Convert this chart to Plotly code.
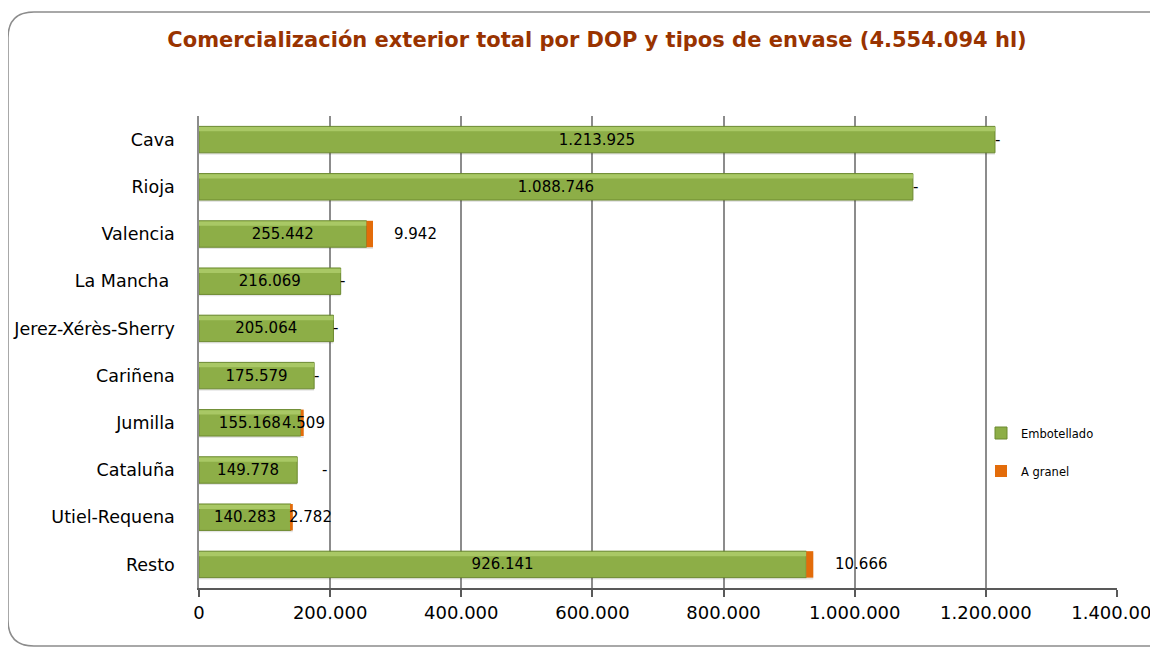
import plotly.graph_objects as go

# data
categories = ['Cava', 'Rioja', 'Valencia', 'La Mancha ', 'Jerez-Xérès-Sherry', 'Cariñena',
              'Jumilla', 'Cataluña', 'Utiel-Requena', 'Resto']
embotellado = [1213925, 1088746, 255442, 216069, 205064, 175579, 155168, 149778, 140283, 926141]
granel = [0, 0, 9942, 0, 0, 0, 4509, 0, 2782, 10666]
x_ticks = [0, 200000, 400000, 600000, 800000, 1000000, 1200000, 1400000]

# pixel shifts of the "A granel" labels, as Excel placed them
label_shift = [3, 3, 42, 2, 2, 2, 0, 27, 18, 48]

FONT = 'DejaVu Sans'
GREEN = '#8DAE47'
GREEN_EDGE = '#6C8A30'
GREEN_LIGHT = '#A9C865'
ORANGE = '#E36C0A'

# the page body adds an 8px margin, so the figure is a bit smaller than the window
W, H = 1150, 642
L, T, R, B = 191, 108, 41, 62

fig = go.Figure()

# soft shadow under the bars
fig.add_trace(go.Bar(
    y=categories, x=[e + g for e, g in zip(embotellado, granel)], orientation='h',
    width=0.56, offset=-0.24, marker=dict(color='rgba(0,0,0,0.10)', line=dict(width=0)),
    showlegend=False, hoverinfo='skip'))

# bottled wine
fig.add_trace(go.Bar(
    y=categories, x=embotellado, orientation='h', name='Embotellado',
    width=0.56, offset=-0.28,
    marker=dict(color=GREEN, line=dict(color=GREEN_EDGE, width=1)),
    text=embotellado, texttemplate='%{x:,.0f}', textposition='inside',
    insidetextanchor='middle', textfont=dict(family=FONT, size=15, color='black'),
    legend='legend'))

# light top strip (bevel look)
fig.add_trace(go.Bar(
    y=categories, x=embotellado, orientation='h',
    width=0.09, offset=-0.265,
    marker=dict(color=GREEN_LIGHT, line=dict(width=0)),
    showlegend=False, hoverinfo='skip'))

# bulk wine, stacked after the bottled bar
fig.add_trace(go.Bar(
    y=categories, x=granel, base=embotellado, orientation='h', name='A granel',
    width=0.56, offset=-0.28,
    marker=dict(color=ORANGE, line=dict(width=0)),
    legend='legend2'))

# labels for the bulk values
for cat, e, g, dx in zip(categories, embotellado, granel, label_shift):
    fig.add_annotation(
        x=e + g, y=cat, text=f'{g:,}'.replace(',', '.') if g else '-',
        showarrow=False, xanchor='center', yanchor='middle', xshift=dx,
        font=dict(family=FONT, size=15, color='black'))

# rounded frame around the chart, given in window pixels
pw, ph = W - L - R, H - T - B


def px(x, y):
    return (x - 8 - L) / pw, (H - B - (y - 8)) / ph


x0, y0 = px(8, 12)
x1, y1 = px(1200, 646)
rx, ry = 26 / pw, 26 / ph
path = (f'M {x0 + rx},{y0} L {x1 - rx},{y0} Q {x1},{y0} {x1},{y0 - ry} '
        f'L {x1},{y1 + ry} Q {x1},{y1} {x1 - rx},{y1} L {x0 + rx},{y1} '
        f'Q {x0},{y1} {x0},{y1 + ry} L {x0},{y0 - ry} Q {x0},{y0} {x0 + rx},{y0} Z')
fig.add_shape(type='path', path=path, xref='paper', yref='paper',
              line=dict(color='#8C8C8C', width=1.5), layer='below')

lx = (981 - 8 - L) / pw
fig.update_layout(
    width=W, height=H,
    margin=dict(l=L, r=R, t=T, b=B, autoexpand=False),
    paper_bgcolor='white', plot_bgcolor='white',
    barmode='overlay',
    separators=',.',
    font=dict(family=FONT, size=16, color='black'),
    title=dict(
        text='<b>Comercialización exterior total por DOP y tipos de envase (4.554.094 hl)</b>',
        x=(597 - 8) / W, xref='container', xanchor='center',
        y=1 - (40 - 8) / H, yref='container', yanchor='middle',
        font=dict(family=FONT, size=21, color='#993300')),
    xaxis=dict(
        range=[0, 1400000], tickvals=x_ticks, tickformat=',.0f', automargin=False,
        showgrid=True, gridcolor='#8C8C8C', gridwidth=1.5, zeroline=False,
        showline=True, linecolor='#595959', linewidth=1.5,
        ticks='outside', ticklen=7, tickcolor='#595959', tickwidth=1.5,
        ticklabelstandoff=1, ticklabeloverflow='allow',
        tickfont=dict(family=FONT, size=18, color='black')),
    yaxis=dict(
        autorange='reversed', showgrid=False, zeroline=False, ticks='', automargin=False,
        showline=True, linecolor='#8C8C8C', linewidth=1.5,
        ticklabelstandoff=19,
        tickfont=dict(family=FONT, size=17.5, color='black')),
    legend=dict(x=lx, y=(H - B - (433 - 8)) / ph, xanchor='left', yanchor='middle',
                bgcolor='rgba(0,0,0,0)', font=dict(family=FONT, size=11.5)),
    legend2=dict(x=lx, y=(H - B - (471 - 8)) / ph, xanchor='left', yanchor='middle',
                 bgcolor='rgba(0,0,0,0)', font=dict(family=FONT, size=11.5)),
)

fig.write_html('out.html')
